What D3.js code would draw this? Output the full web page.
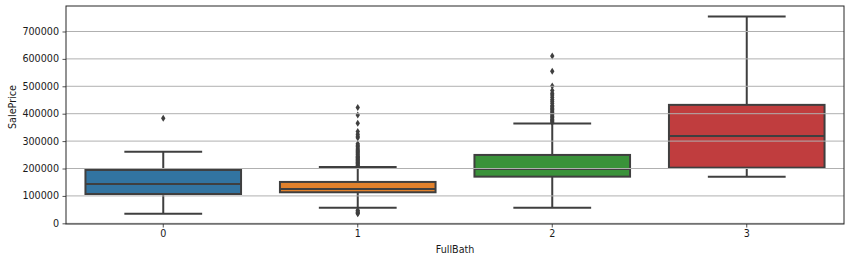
<!DOCTYPE html>
<html>
<head>
<meta charset="utf-8">
<script src="https://cdn.jsdelivr.net/npm/d3@7"></script>
<style>
  body { margin: 0; background: #fff; }
  text { font-family: "DejaVu Sans", sans-serif; fill: #262626; }
</style>
</head>
<body>
<div id="chart"></div>
<script>
// box statistics, one entry per FullBath value
var categories = ["0", "1", "2", "3"];
var whiskerLow = [35100, 57000, 57000, 170000];
var q1 = [107000, 113300, 170300, 203000];
var median = [143600, 125300, 198400, 319000];
var q3 = [194700, 151000, 249500, 432200];
var whiskerHigh = [261600, 205700, 364000, 755000];
var outliers = [
  [383600],
  [34900, 37900, 40000, 45000, 48000,
   207000, 210000, 213000, 216000, 219000, 222000, 225000, 228000, 231000, 234000,
   237000, 240000, 243000, 246000, 250000, 254000, 258000, 262000, 266000, 270000,
   275000, 280000, 285000, 290000, 312000, 318000, 325000, 335000, 365000, 395000, 423000],
  [368000, 372000, 376000, 380000, 385000, 390000, 395000, 400000, 405000, 410000,
   415000, 420000, 425000, 430000, 438000, 445000, 452000, 460000, 468000, 475000,
   485000, 501000, 555000, 611000],
  []
];
var yTicks = [0, 100000, 200000, 300000, 400000, 500000, 600000, 700000];
var colors = ["#3274a1", "#e1812c", "#3a923a", "#c03d3e"];

var W = 854, H = 262;
var margin = {top: 6, right: 10, bottom: 38, left: 66},
    width = W - margin.left - margin.right,
    height = H - margin.top - margin.bottom;

var svg = d3.select("#chart").append("svg")
    .attr("width", W)
    .attr("height", H);

var g = svg.append("g")
    .attr("transform", "translate(" + margin.left + "," + margin.top + ")");

var x = d3.scaleBand().domain(categories).range([0, width]);
var y = d3.scaleLinear().domain([-2500, 793000]).range([height, 0]);

var boxW = x.bandwidth() * 0.8;
var capW = boxW * 0.5;
var lineColor = "#3f3f3f";
var lw = 2;

var data = categories.map(function(c, i) {
  return {cat: c, lo: whiskerLow[i], q1: q1[i], med: median[i], q3: q3[i],
          hi: whiskerHigh[i], out: outliers[i], color: colors[i]};
});

var box = g.selectAll(".box")
    .data(data)
  .enter().append("g")
    .attr("class", "box")
    .attr("transform", function(d) { return "translate(" + (x(d.cat) + x.bandwidth() / 2) + ",0)"; });

// whiskers
box.append("line")
    .attr("x1", 0).attr("x2", 0)
    .attr("y1", function(d) { return y(d.q3); })
    .attr("y2", function(d) { return y(d.hi); })
    .style("stroke", lineColor).style("stroke-width", lw);
box.append("line")
    .attr("x1", 0).attr("x2", 0)
    .attr("y1", function(d) { return y(d.q1); })
    .attr("y2", function(d) { return y(d.lo); })
    .style("stroke", lineColor).style("stroke-width", lw);
box.append("line")
    .attr("x1", -capW / 2).attr("x2", capW / 2)
    .attr("y1", function(d) { return y(d.hi); })
    .attr("y2", function(d) { return y(d.hi); })
    .style("stroke", lineColor).style("stroke-width", lw);
box.append("line")
    .attr("x1", -capW / 2).attr("x2", capW / 2)
    .attr("y1", function(d) { return y(d.lo); })
    .attr("y2", function(d) { return y(d.lo); })
    .style("stroke", lineColor).style("stroke-width", lw);

// boxes
box.append("rect")
    .attr("x", -boxW / 2)
    .attr("width", boxW)
    .attr("y", function(d) { return y(d.q3); })
    .attr("height", function(d) { return y(d.q1) - y(d.q3); })
    .style("fill", function(d) { return d.color; });

// grid lines (drawn over the box fill like the original)
g.append("g")
    .selectAll("line")
    .data(yTicks)
  .enter().append("line")
    .attr("x1", 0).attr("x2", width)
    .attr("y1", function(d) { return y(d); })
    .attr("y2", function(d) { return y(d); })
    .style("stroke", "#b0b0b0")
    .style("stroke-width", 1);

// box outline + median on top
box.append("rect")
    .attr("x", -boxW / 2)
    .attr("width", boxW)
    .attr("y", function(d) { return y(d.q3); })
    .attr("height", function(d) { return y(d.q1) - y(d.q3); })
    .style("fill", "none")
    .style("stroke", lineColor).style("stroke-width", lw);
box.append("line")
    .attr("x1", -boxW / 2).attr("x2", boxW / 2)
    .attr("y1", function(d) { return y(d.med); })
    .attr("y2", function(d) { return y(d.med); })
    .style("stroke", lineColor).style("stroke-width", lw);

// fliers
box.selectAll(".flier")
    .data(function(d) { return d.out; })
  .enter().append("path")
    .attr("class", "flier")
    .attr("d", function(v) {
      var cy = y(v);
      return "M0," + (cy - 3.5) + "L2.2,"  + cy + "L0," + (cy + 3.5) + "L-2.2," + cy + "Z";
    })
    .style("fill", lineColor);

// axes
var xAxis = d3.axisBottom(x).tickSize(3.5).tickPadding(3);
var yAxis = d3.axisLeft(y).tickValues(yTicks).tickSize(3.5).tickPadding(3.5)
    .tickFormat(d3.format("d"));

var gx = g.append("g")
    .attr("transform", "translate(0," + height + ")")
    .call(xAxis);
var gy = g.append("g").call(yAxis);

[gx, gy].forEach(function(a) {
  a.select(".domain").remove();
  a.selectAll("line").style("stroke", "#262626").style("stroke-width", 0.8);
  a.selectAll("text").style("font-size", "9.6px").style("fill", "#1a1a1a")
    .style("font-family", "'DejaVu Sans', sans-serif");
});

// frame
g.append("rect")
    .attr("width", width)
    .attr("height", height)
    .style("fill", "none")
    .style("stroke", "#262626")
    .style("stroke-width", 1);

g.append("text")
    .attr("x", width / 2)
    .attr("y", height + 29)
    .style("text-anchor", "middle")
    .style("font-size", "9.6px")
    .style("fill", "#1a1a1a")
    .text("FullBath");

g.append("text")
    .attr("transform", "rotate(-90)")
    .attr("x", -height / 2 + 8)
    .attr("y", -margin.left + 16)
    .style("text-anchor", "middle")
    .style("font-size", "9.6px")
    .style("fill", "#1a1a1a")
    .text("SalePrice");
</script>
</body>
</html>
